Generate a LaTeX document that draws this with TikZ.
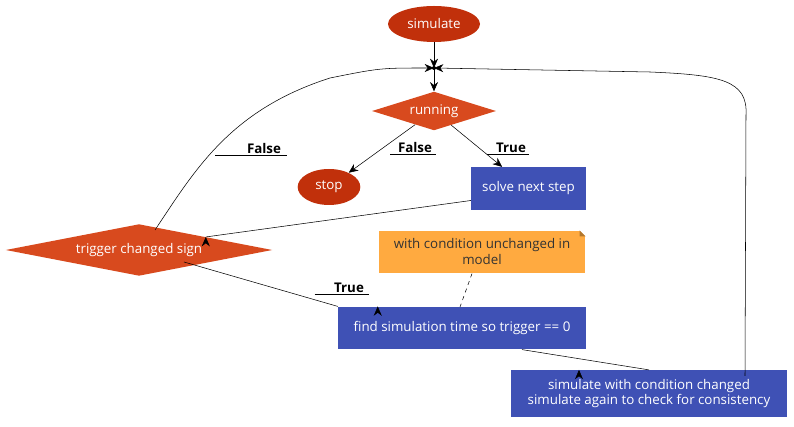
\documentclass[tikz,border=0pt]{standalone}
\usepackage{fontspec}
\setmainfont{Open Sans}
\usetikzlibrary{shapes.geometric,arrows.meta,shapes.misc}
\definecolor{dred}{HTML}{C1300B}
\definecolor{ored}{HTML}{D84A1E}
\definecolor{bbox}{HTML}{3F51B5}
\definecolor{note}{HTML}{FFAA40}
\begin{document}
\begin{tikzpicture}[x=0.75pt,y=-0.75pt,font=\fontsize{10pt}{12pt}\selectfont,
  ell/.style={ellipse,fill=dred,text=white,inner sep=0pt},
  dia/.style={diamond,fill=ored,text=white,aspect=3.3,inner sep=0pt},
  box/.style={rectangle,fill=bbox,text=white,inner sep=0pt,align=center},
  arr/.style={-{Stealth[length=7pt,width=6pt]},black},
  lab/.style={font=\fontsize{10pt}{12pt}\selectfont\bfseries,inner sep=1pt}]
\useasboundingbox (0,0) rectangle (794,427);
\node[ell,minimum width=69pt,minimum height=27pt] (sim) at (434,24) {simulate};
\coordinate (j) at (434,68);
\fill (j) circle (1.5pt);
\node[dia,minimum width=93pt,minimum height=29pt] (run) at (434,111) {running};
\node[ell,minimum width=47pt,minimum height=27pt] (stop) at (329,187) {stop};
\node[box,minimum width=86pt,minimum height=32pt] (solve) at (528.5,188.5) {solve next step};
\node[dia,minimum width=200pt,minimum height=34pt] (trig) at (139,250) {trigger changed sign};
\node[rectangle,fill=note,text=black!80,minimum width=155pt,minimum height=32pt,align=center,inner sep=0pt] (note) at (482,252) {with condition unchanged in\\model};
\fill[white] (note.north east) -- ++(-6,0) -- ++(6,6) -- cycle;
\fill[note!70!black] (note.north east) ++(-6,0) -- ++(0,6) -- ++(6,0) -- cycle;
\node[box,minimum width=186pt,minimum height=32pt] (find) at (462,328) {find simulation time so trigger == 0};
\node[box,minimum width=207pt,minimum height=35pt,font=\fontsize{10pt}{11pt}\selectfont] (swc) at (649,393.5) {simulate with condition changed\\simulate again to check for consistency};
\draw[arr] (sim) -- (j);
\draw[arr] (j) -- (run);
\draw[arr] (run) -- (stop);
\draw[arr] (run) -- (solve);
\draw[arr] (solve.west) ++(0,12) -- (trig.north east) ++(0,0);
\draw[arr] (trig) ++(45,12) -- (find.north west) ++(40,0);
\draw[arr] (find.south) ++(60,0) coordinate (fa) -- (swc.north) ++(-70,0);
\draw[arr] (155,230) .. controls (195,170) and (230,110) .. (330,78) .. controls (380,68) .. (j);
\draw[arr] (745,376) -- (746,115) .. controls (748,80) and (720,75) .. (650,72) -- (j);
\draw[dashed] (note.south) ++(-10,0) -- (460,307);
\node[lab,anchor=south] (l1) at (415,154) {False};
\draw (l1.south west)++(-6,0) -- ++(46,0);
\node[lab,anchor=south] (l2) at (511,154) {True};
\draw (l2.south west)++(-8,0) -- ++(42,0);
\node[lab,anchor=south] (l3) at (264,155) {False};
\draw (l3.south west)++(-30,0) -- ++(72,0);
\node[lab,anchor=south] (l4) at (349,294) {True};
\draw (l4.south west)++(-18,0) -- ++(54,0);
\end{tikzpicture}
\end{document}
